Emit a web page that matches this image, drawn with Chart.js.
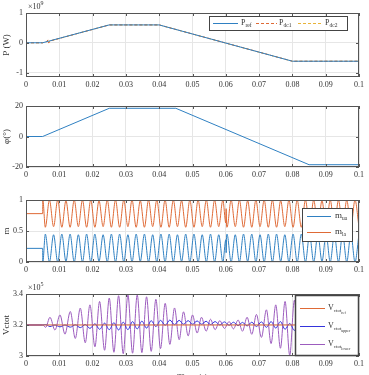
<!DOCTYPE html>
<html>
<head>
<meta charset="utf-8">
<script src="https://cdn.jsdelivr.net/npm/chart.js@4.4.0/dist/chart.umd.min.js"></script>
<style>
  html, body { margin: 0; padding: 0; background: #fff; overflow: hidden; width: 369px; height: 375px; }
  canvas { position: absolute; left: 0; }
</style>
</head>
<body>
<canvas id="cP" width="369" height="90" style="top:0px"></canvas>
<canvas id="cPhi" width="369" height="95" style="top:90px"></canvas>
<canvas id="cM" width="369" height="95" style="top:185px"></canvas>
<canvas id="cV" width="369" height="103" style="top:280px"></canvas>
<script>
// shared x tick labels (s)
const xTicks = [0, 0.01, 0.02, 0.03, 0.04, 0.05, 0.06, 0.07, 0.08, 0.09, 0.1];

// active power (x1e9 W)
const pTime = [0, 0.005, 0.025, 0.04, 0.08, 0.1];
const pRef = [0, 0, 0.6, 0.6, -0.62, -0.62];
const pDcTime = [0, 0.005, 0.0062, 0.0066, 0.0068, 0.0072, 0.025, 0.04, 0.08, 0.1];
const pDc1 = [0, 0, 0.04, 0.1, -0.01, 0.06, 0.6, 0.6, -0.62, -0.62];
const pDc2 = [0, 0, 0.04, 0.09, 0.0, 0.06, 0.6, 0.6, -0.62, -0.62];

// phase angle (deg)
const phiTime = [0, 0.005, 0.025, 0.045, 0.085, 0.1];
const phiDeg = [0, 0, 18.5, 18.5, -18.5, -18.5];

// modulation indices, peaks and troughs
const mTime = [0, 0.005, 0.00505,
  0.0058, 0.00704, 0.00828, 0.00952, 0.01076, 0.012, 0.01324, 0.01448, 0.01572, 0.01696,
  0.0182, 0.01944, 0.02068, 0.02192, 0.02316, 0.0244, 0.02564, 0.02688, 0.02812, 0.02936,
  0.0306, 0.03184, 0.03308, 0.03432, 0.03556, 0.0368, 0.03804, 0.03928, 0.04052, 0.04176,
  0.043, 0.04424, 0.04548, 0.04672, 0.04796, 0.0492, 0.05044, 0.05168, 0.05292, 0.05416,
  0.0554, 0.05664, 0.05788, 0.05912,
  0.06, 0.06012, 0.06024,
  0.06036, 0.0616, 0.06284, 0.06408, 0.06532, 0.06656, 0.0678, 0.06904,
  0.07028, 0.07152, 0.07276, 0.074, 0.07524, 0.07648, 0.07772, 0.07896,
  0.0802, 0.08144, 0.08268, 0.08392, 0.08516, 0.0864, 0.08764, 0.08888,
  0.09012, 0.09136, 0.0926, 0.09384, 0.09508, 0.09632, 0.09756, 0.0988,
  0.1];
const mUa = [0.22, 0.22, 0.0,
  0.45, 0.0, 0.44, 0.0, 0.45, 0.01, 0.45, 0.0, 0.44, 0.0,
  0.45, 0.0, 0.45, 0.01, 0.44, 0.0, 0.45, 0.0, 0.45, 0.0,
  0.44, 0.0, 0.45, 0.01, 0.45, 0.0, 0.44, 0.0, 0.45, 0.0,
  0.45, 0.0, 0.44, 0.01, 0.45, 0.0, 0.45, 0.0, 0.44, 0.0,
  0.45, 0.0, 0.44, 0.0,
  0.36, 0.15, 0.42,
  0.45, 0.0, 0.44, 0.0, 0.45, 0.01, 0.45, 0.0,
  0.44, 0.0, 0.45, 0.0, 0.45, 0.01, 0.44, 0.0,
  0.45, 0.0, 0.45, 0.0, 0.44, 0.0, 0.45, 0.01,
  0.45, 0.0, 0.44, 0.0, 0.45, 0.0, 0.45, 0.0,
  0.45];
const mLa = [0.78, 0.78, 1.0,
  0.56, 1.0, 0.57, 1.0, 0.56, 0.99, 0.56, 1.0, 0.57, 1.0,
  0.56, 1.0, 0.56, 0.99, 0.57, 1.0, 0.56, 1.0, 0.56, 1.0,
  0.57, 1.0, 0.56, 0.99, 0.56, 1.0, 0.57, 1.0, 0.56, 1.0,
  0.56, 1.0, 0.57, 0.99, 0.56, 1.0, 0.56, 1.0, 0.57, 1.0,
  0.56, 1.0, 0.57, 1.0,
  0.63, 0.86, 0.58,
  0.56, 1.0, 0.57, 1.0, 0.56, 0.99, 0.56, 1.0,
  0.57, 1.0, 0.56, 1.0, 0.56, 0.99, 0.57, 1.0,
  0.56, 1.0, 0.56, 1.0, 0.57, 1.0, 0.56, 0.99,
  0.56, 1.0, 0.57, 1.0, 0.56, 1.0, 0.56, 1.0,
  0.56];

// capacitor voltages (x1e5 V), peaks and troughs
const vTime = [
  0, 0.005, 0.0059, 0.0072, 0.0087, 0.0102, 0.0117, 0.0133, 0.0148, 0.0163,
  0.0178, 0.0192, 0.0207, 0.0221, 0.0236, 0.025, 0.0264, 0.0278, 0.0292, 0.0306,
  0.032, 0.0334, 0.0348, 0.0362, 0.0376, 0.039, 0.0404, 0.0418, 0.0432, 0.0446,
  0.046, 0.0473, 0.0487, 0.05, 0.0514, 0.0527, 0.0541, 0.0554, 0.0568, 0.0582,
  0.0596, 0.061, 0.0623, 0.0637, 0.065, 0.0664, 0.0678, 0.0692, 0.0707, 0.0722,
  0.0736, 0.075, 0.0764, 0.0778, 0.0792, 0.0806, 0.082, 0.0834, 0.0848, 0.0862,
  0.0876, 0.089, 0.0904, 0.0918, 0.0932, 0.0946, 0.0962, 0.0985, 0.1];
const vLower = [
  3.2, 3.2, 3.185, 3.25, 3.167, 3.265, 3.141, 3.287, 3.113, 3.309,
  3.085, 3.33, 3.059, 3.352, 3.037, 3.374, 3.024, 3.389, 3.015, 3.396,
  3.018, 3.394, 3.022, 3.382, 3.03, 3.366, 3.048, 3.34, 3.075, 3.31,
  3.105, 3.285, 3.13, 3.265, 3.148, 3.25, 3.16, 3.237, 3.17, 3.228,
  3.178, 3.222, 3.175, 3.232, 3.16, 3.25, 3.14, 3.268, 3.12, 3.298,
  3.08, 3.33, 3.05, 3.352, 3.004, 3.36, 2.99, 3.37, 2.99, 3.37,
  2.99, 3.37, 2.99, 3.37, 2.99, 3.37, 2.99, 3.35, 2.99];
const vUpper = [
  3.2, 3.2, 3.203, 3.19, 3.2, 3.188, 3.2, 3.186, 3.201, 3.183,
  3.203, 3.178, 3.208, 3.172, 3.212, 3.17, 3.215, 3.168, 3.218, 3.17,
  3.222, 3.175, 3.225, 3.18, 3.228, 3.19, 3.23, 3.198, 3.232, 3.202,
  3.23, 3.205, 3.228, 3.205, 3.226, 3.205, 3.224, 3.203, 3.222, 3.2,
  3.22, 3.198, 3.218, 3.196, 3.217, 3.194, 3.218, 3.19, 3.22, 3.185,
  3.222, 3.18, 3.222, 3.172, 3.21, 3.165, 3.22, 3.19, 3.22, 3.19,
  3.22, 3.19, 3.22, 3.19, 3.22, 3.19, 3.22, 3.2, 3.21];
const vRefTime = [0, 0.1];
const vRef = [3.2, 3.2];

Chart.defaults.font.family = '"Liberation Serif", "Times New Roman", serif';
Chart.defaults.color = '#333';

const BLUE = '#2f80c2';
const ORANGE = '#df6a36';
const YELLOW = '#e8b43a';
const FRAME = '#555';

function pairs(xs, ys) {
  return xs.map((x, i) => ({ x: x, y: ys[i] }));
}

function fmt(v) {
  return String(Number(v.toFixed(3)));
}

// text with subscripts: parts = [text, size, dy]
function drawParts(ctx, x, y, parts) {
  parts.forEach(p => {
    ctx.font = p[1] + 'px "Liberation Serif"';
    ctx.fillText(p[0], x, y + p[2]);
    x += ctx.measureText(p[0]).width;
  });
}

// matlab-like box, inner ticks, legend and exponent label
const boxPlugin = {
  id: 'mbox',
  afterDatasetsDraw(chart, args, opts) {
    const ctx = chart.ctx;
    const a = chart.chartArea;
    const xs = chart.scales.x, ys = chart.scales.y;
    ctx.save();
    ctx.strokeStyle = FRAME;
    ctx.lineWidth = 1;
    ctx.strokeRect(a.left + 0.5, a.top + 0.5, a.right - a.left - 1, a.bottom - a.top - 1);
    ctx.beginPath();
    xs.ticks.forEach(t => {
      const px = Math.round(xs.getPixelForValue(t.value)) + 0.5;
      ctx.moveTo(px, a.bottom); ctx.lineTo(px, a.bottom - 3);
      ctx.moveTo(px, a.top); ctx.lineTo(px, a.top + 3);
    });
    ys.ticks.forEach(t => {
      const py = Math.round(ys.getPixelForValue(t.value)) + 0.5;
      ctx.moveTo(a.left, py); ctx.lineTo(a.left + 3, py);
      ctx.moveTo(a.right, py); ctx.lineTo(a.right - 3, py);
    });
    ctx.stroke();
    ctx.restore();
  },
  afterDraw(chart, args, opts) {
    const ctx = chart.ctx;
    const a = chart.chartArea;
    ctx.save();
    ctx.fillStyle = '#333';
    ctx.textBaseline = 'alphabetic';
    if (opts.expo) {
      drawParts(ctx, a.left + 2, a.top - 4, [['\u00d710', 8, 0], [opts.expo, 6, -4]]);
    }
    const lg = opts.legend;
    if (lg) {
      ctx.fillStyle = '#fff';
      ctx.fillRect(lg.x, lg.y, lg.w, lg.h);
      ctx.strokeStyle = '#444';
      ctx.lineWidth = lg.border || 1;
      ctx.strokeRect(lg.x + 0.5, lg.y + 0.5, lg.w, lg.h);
      lg.items.forEach(it => {
        ctx.beginPath();
        ctx.setLineDash(it.dash || []);
        ctx.strokeStyle = it.color;
        ctx.lineWidth = 1;
        ctx.moveTo(it.x1, it.y + 0.5);
        ctx.lineTo(it.x2, it.y + 0.5);
        ctx.stroke();
        ctx.setLineDash([]);
        ctx.fillStyle = '#333';
        ctx.textBaseline = 'middle';
        drawParts(ctx, it.tx, it.y, it.parts);
      });
    }
    ctx.restore();
  }
};

function makeChart(id, cfg) {
  return new Chart(document.getElementById(id), {
    type: 'line',
    data: { datasets: cfg.datasets },
    options: {
      responsive: false,
      animation: false,
      layout: { padding: { top: cfg.padTop, right: 10, left: 0, bottom: 0 } },
      elements: { point: { radius: 0 }, line: { borderWidth: 1 } },
      plugins: {
        legend: { display: false },
        tooltip: { enabled: false },
        mbox: { legend: cfg.legend, expo: cfg.expo }
      },
      scales: {
        x: {
          type: 'linear', min: 0, max: 0.1,
          afterFit: s => { s.height = cfg.xh; },
          afterBuildTicks: s => { s.ticks = xTicks.map(v => ({ value: v })); },
          ticks: { font: { size: 8 }, padding: 3, maxRotation: 0, autoSkip: false, callback: v => fmt(v) },
          grid: { color: '#e6e6e6', drawTicks: false },
          border: { display: false },
          title: cfg.xTitle
            ? { display: true, text: cfg.xTitle, font: { size: 9 }, padding: { top: 0, bottom: 0 } }
            : { display: false }
        },
        y: {
          type: 'linear', min: cfg.yMin, max: cfg.yMax,
          afterFit: s => { s.width = 26; },
          afterBuildTicks: s => { s.ticks = cfg.yTicks.map(v => ({ value: v })); },
          ticks: { font: { size: 8 }, padding: 3, callback: v => fmt(v) },
          grid: { color: '#e6e6e6', drawTicks: false },
          border: { display: false },
          title: { display: true, text: cfg.yTitle, font: { size: 9 }, padding: { top: 1, bottom: 0 } }
        }
      }
    },
    plugins: [boxPlugin]
  });
}

// 1. power
makeChart('cP', {
  padTop: 13, xh: 13, yMin: -1.15, yMax: 1, yTicks: [-1, 0, 1], yTitle: 'P (W)', expo: '9',
  datasets: [
    { label: 'P_ref', data: pairs(pTime, pRef), borderColor: BLUE },
    { label: 'P_dc1', data: pairs(pDcTime, pDc1), borderColor: ORANGE, borderDash: [3, 2] },
    { label: 'P_dc2', data: pairs(pDcTime, pDc2), borderColor: YELLOW, borderDash: [3, 2] }
  ],
  legend: {
    x: 209, y: 16, w: 138, h: 14,
    items: [
      { color: BLUE, x1: 213, x2: 238, y: 23, tx: 241, parts: [['P', 8, 0], ['ref', 5.5, 2.5]] },
      { color: ORANGE, dash: [3, 2], x1: 256, x2: 277, y: 23, tx: 279, parts: [['P', 8, 0], ['dc1', 5.5, 2.5]] },
      { color: YELLOW, dash: [3, 2], x1: 298, x2: 321, y: 23, tx: 325, parts: [['P', 8, 0], ['dc2', 5.5, 2.5]] }
    ]
  }
});

// 2. phase angle
makeChart('cPhi', {
  padTop: 16, xh: 18, yMin: -20, yMax: 20, yTicks: [-20, 0, 20], yTitle: '\u03c6(\u00b0)',
  datasets: [
    { label: 'phi', data: pairs(phiTime, phiDeg), borderColor: BLUE }
  ]
});

// 3. modulation indices
makeChart('cM', {
  padTop: 15, xh: 18, yMin: 0, yMax: 1, yTicks: [0, 0.5, 1], yTitle: 'm',
  datasets: [
    { label: 'm_ua', data: pairs(mTime, mUa), borderColor: BLUE, cubicInterpolationMode: 'monotone' },
    { label: 'm_la', data: pairs(mTime, mLa), borderColor: ORANGE, cubicInterpolationMode: 'monotone' }
  ],
  legend: {
    x: 302, y: 23, w: 50, h: 33,
    items: [
      { color: BLUE, x1: 307, x2: 331, y: 31, tx: 335, parts: [['m', 9, 0], ['ua', 5.5, 3]] },
      { color: ORANGE, x1: 307, x2: 331, y: 47, tx: 335, parts: [['m', 9, 0], ['la', 5.5, 3]] }
    ]
  }
});

// 4. capacitor voltages
makeChart('cV', {
  padTop: 14, xh: 27, yMin: 3, yMax: 3.4, yTicks: [3, 3.2, 3.4], yTitle: 'Vctot', expo: '5', xTitle: 'Time (s)',
  datasets: [
    { label: 'V_ref', data: pairs(vRefTime, vRef), borderColor: ORANGE },
    { label: 'V_upper', data: pairs(vTime, vUpper), borderColor: '#3434dc', cubicInterpolationMode: 'monotone' },
    { label: 'V_lower', data: pairs(vTime, vLower), borderColor: '#9c5cbe', cubicInterpolationMode: 'monotone' }
  ],
  legend: {
    x: 295, y: 15, w: 63, h: 60, border: 1.5,
    items: [
      { color: ORANGE, x1: 300, x2: 325, y: 28, tx: 328, parts: [['V', 8, 0], ['ctot', 5, 2.5], ['ref', 4, 5]] },
      { color: '#3434dc', x1: 300, x2: 325, y: 46, tx: 328, parts: [['V', 8, 0], ['ctot', 5, 2.5], ['upper', 4, 5]] },
      { color: '#9c5cbe', x1: 300, x2: 325, y: 64, tx: 328, parts: [['V', 8, 0], ['ctot', 5, 2.5], ['lower', 4, 5]] }
    ]
  }
});
</script>
</body>
</html>
